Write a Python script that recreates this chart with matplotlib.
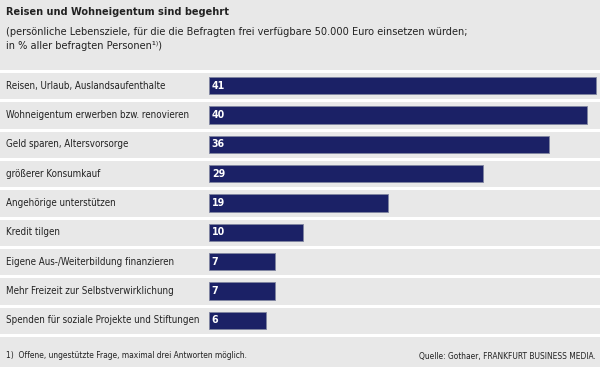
import matplotlib
matplotlib.use("Agg")
import matplotlib.pyplot as plt

categories = [
    "Reisen, Urlaub, Auslandsaufenthalte",
    "Wohneigentum erwerben bzw. renovieren",
    "Geld sparen, Altersvorsorge",
    "größerer Konsumkauf",
    "Angehörige unterstützen",
    "Kredit tilgen",
    "Eigene Aus-/Weiterbildung finanzieren",
    "Mehr Freizeit zur Selbstverwirklichung",
    "Spenden für soziale Projekte und Stiftungen",
]
values = [41, 40, 36, 29, 19, 10, 7, 7, 6]

title = "Reisen und Wohneigentum sind begehrt"
subtitle = ("(persönliche Lebensziele, für die die Befragten frei verfügbare 50.000 Euro einsetzen würden;\n"
            "in % aller befragten Personen\u00b9\u207e)")
footnote = "1)  Offene, ungestützte Frage, maximal drei Antworten möglich."
source = "Quelle: Gothaer, FRANKFURT BUSINESS MEDIA."

plt.rcParams["font.family"] = "DejaVu Sans"
plt.rcParams["font.stretch"] = "condensed"

bg = "#e8e8e8"
navy = "#1b2166"
ink = "#222222"
W, H = 600, 367

fig = plt.figure(figsize=(6, 3.67), dpi=100, facecolor=bg)
top_px, bot_px = 71, 335
ax = fig.add_axes([0, 1 - bot_px / H, 1, (bot_px - top_px) / H])
ax.set_facecolor(bg)

# 0 of the value axis sits at x=209 px, ~9.44 px per percent
px_per_unit = 9.44
x0_px = 209
ax.set_xlim(-x0_px / px_per_unit, (W - x0_px) / px_per_unit)
n = len(categories)
ax.set_ylim(n - 0.5, -0.5)

ypos = list(range(n))
ax.barh(ypos, values, height=0.58, color=navy, edgecolor="#7f84a0", linewidth=0.6, zorder=3)

# white row separators across the full width
for i in range(n + 1):
    ax.axhline(i - 0.5, color="white", linewidth=2.2, zorder=2, clip_on=False)

trans = ax.get_yaxis_transform()
for y, cat, v in zip(ypos, categories, values):
    ax.text(6 / W, y, cat, transform=trans, ha="left", va="center",
            fontsize=7.0, color=ink)
    ax.text(0.3, y, str(v), ha="left", va="center", fontsize=7.6, fontweight="bold",
            color="white", zorder=4)

ax.axis("off")

fig.text(6 / W, 1 - 12 / H, title, fontsize=7.8, fontweight="bold", va="center", color=ink)
fig.text(6 / W, 1 - 39 / H, subtitle, fontsize=7.8, va="center", color=ink, linespacing=1.5)
fig.text(6 / W, 1 - 356 / H, footnote, fontsize=6.0, va="center", color=ink)
fig.text(596 / W, 1 - 356 / H, source, fontsize=6.0, va="center", ha="right", color=ink)

fig.savefig("out.png", dpi=100, facecolor=bg)
